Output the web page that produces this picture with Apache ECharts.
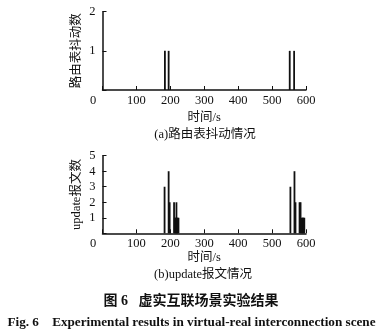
<!DOCTYPE html>
<html><head><meta charset="utf-8">
<script src="https://cdn.jsdelivr.net/npm/echarts@6/dist/echarts.min.js"></script>
<style>html,body{margin:0;padding:0;background:#fff}#c{width:386px;height:335px}</style>
</head><body><div id="c"></div>
<script>
// Top chart: route-table flap counts
const timesA = [184, 195, 552, 565];
const valuesA = [1, 1, 1, 1];
// Bottom chart: update message counts
const timesB = [183, 195, 198, 211, 213, 215, 217, 218, 220, 222, 224, 554, 566, 569, 581, 584, 587, 589, 591, 593, 595];
const valuesB = [3, 4, 2, 2, 1, 1, 1, 2, 1, 1, 1, 3, 4, 2, 2, 2, 1, 1, 1, 1, 1];
const xTicks = [0, 100, 200, 300, 400, 500, 600];

const FONT = '"Liberation Serif", "Noto Sans CJK SC", serif';
const TXT = '#111';

function xAxis(gridIndex, nameGap) {
  return {
    gridIndex, type: 'value', min: 0, max: 600, interval: 100,
    name: '时间/s', nameLocation: 'middle', nameGap, nameMoveOverlap: false,
    nameTextStyle: { fontFamily: FONT, fontSize: 12.5, color: TXT },
    axisLine: { lineStyle: { color: '#111', width: 1.5 } },
    axisTick: { inside: true, length: 4, lineStyle: { color: '#111' } },
    axisLabel: {
      margin: 4, fontFamily: FONT, fontSize: 12.5, color: TXT,
      formatter: v => v === 0 ? '{z|0}' : String(v),
      rich: { z: { fontFamily: FONT, fontSize: 12.5, color: TXT, padding: [0, 19, 0, 0] } }
    },
    splitLine: { show: false }
  };
}
function yAxis(gridIndex, max, name) {
  return {
    gridIndex, type: 'value', min: 0, max, interval: 1,
    name, nameLocation: 'middle', nameRotate: 90, nameGap: 20, nameMoveOverlap: false,
    nameTextStyle: { fontFamily: FONT, fontSize: 12.5, color: TXT },
    axisLine: { show: true, lineStyle: { color: '#111', width: 1.5 } },
    axisTick: { show: true, inside: true, length: 4, lineStyle: { color: '#111' } },
    axisLabel: { margin: 7, fontFamily: FONT, fontSize: 12.5, color: TXT,
      formatter: v => v === 0 ? '' : String(v) },
    splitLine: { show: false }
  };
}

const chart = echarts.init(document.getElementById('c'), null, { renderer: 'canvas' });
chart.setOption({
  animation: false,
  grid: [
    { left: 102.5, right: 80, top: 11.7, height: 78.3 },
    { left: 102.5, right: 80, top: 155.7, height: 77.6 }
  ],
  xAxis: [xAxis(0, 21), xAxis(1, 18)],
  yAxis: [yAxis(0, 2, '路由表抖动数'), yAxis(1, 5, 'update报文数')],
  series: [
    { type: 'bar', xAxisIndex: 0, yAxisIndex: 0, barWidth: 1.8,
      itemStyle: { color: '#111' },
      data: timesA.map((t, i) => [t, valuesA[i]]) },
    { type: 'bar', xAxisIndex: 1, yAxisIndex: 1, barWidth: 1.8,
      itemStyle: { color: '#111' },
      data: timesB.map((t, i) => [t, valuesB[i]]) }
  ],
  graphic: [
    { type: 'text', x: 205, y: 135, style: { text: '(a)路由表抖动情况', font: '12.5px ' + FONT, fill: TXT, textAlign: 'center', textVerticalAlign: 'middle' } },
    { type: 'text', x: 203, y: 275, style: { text: '(b)update报文情况', font: '12.5px ' + FONT, fill: TXT, textAlign: 'center', textVerticalAlign: 'middle' } },
    { type: 'text', x: 191, y: 301, style: { text: '图 6   虚实互联场景实验结果', font: 'bold 14px ' + FONT, fill: TXT, textAlign: 'center', textVerticalAlign: 'middle' } },
    { type: 'text', x: 191.5, y: 322.5, style: { text: 'Fig. 6    Experimental results in virtual-real interconnection scene', font: 'bold 13.2px ' + FONT, fill: TXT, textAlign: 'center', textVerticalAlign: 'middle' } }
  ]
});
</script></body></html>
